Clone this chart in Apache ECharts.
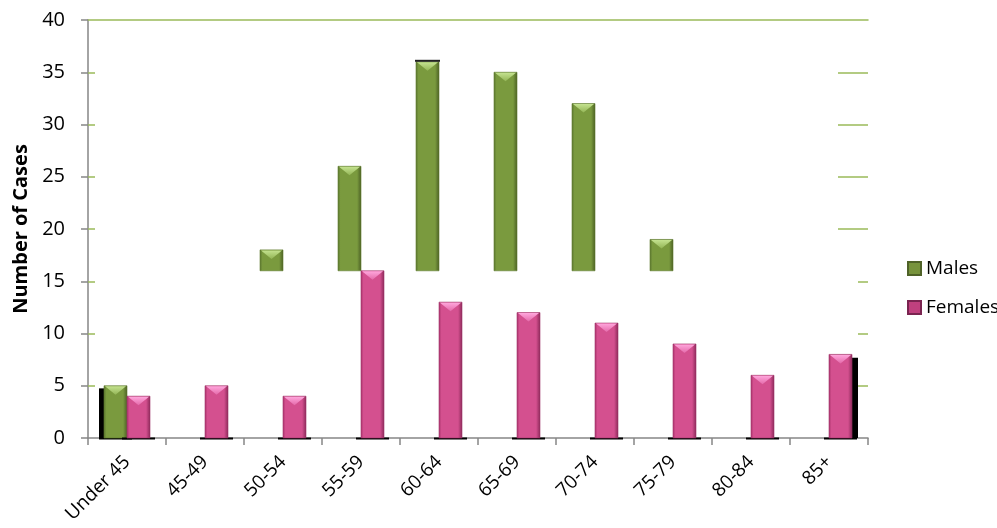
<!DOCTYPE html>
<html>
<head>
<meta charset="utf-8">
<script src="https://cdn.jsdelivr.net/npm/echarts@6/dist/echarts.min.js"></script>
<style>
html,body{margin:0;padding:0;background:#fff;}
#chart{width:997px;height:528px;}
</style>
</head>
<body>
<div id="chart"></div>
<script>
// ---- data ----
const categories = ['Under 45','45-49','50-54','55-59','60-64','65-69','70-74','75-79','80-84','85+'];
const males   = [5, null, 18, 26, 36, 35, 32, 19, null, null];
const females = [4, 5, 4, 16, 13, 12, 11, 9, 6, 8];
const yTicks = [0, 5, 10, 15, 20, 25, 30, 35, 40];

// ---- style ----
const FONT = 'Open Sans';
const GREEN_GRID = '#9BBB59';
const AXIS_GRAY = '#868686';
const OCCLUDE_LEVEL = 16; // rendering artefact of reference: male bars hidden below this level (except first)
const BAR_W = 23;

function grad(dark1, main, dark2){
  return new echarts.graphic.LinearGradient(0,0,1,0,[
    {offset:0,color:dark1},{offset:0.12,color:main},{offset:0.82,color:main},{offset:1,color:dark2}
  ]);
}
function triGrad(top, bottom){
  return new echarts.graphic.LinearGradient(0,0,0,1,[{offset:0,color:top},{offset:1,color:bottom}]);
}

function makeRender(side){
  const isM = side === 'm';
  return function(params, api){
    const idx = api.value(0), val = api.value(1);
    if (val == null || isNaN(val)) return;
    const top = api.coord([idx, val]);
    const baseVal = (isM && idx > 0 && val > OCCLUDE_LEVEL) ? OCCLUDE_LEVEL : 0;
    const bot = api.coord([idx, baseVal]);
    const x = isM ? top[0] - BAR_W : top[0];
    const y = top[1];
    const h = bot[1] - top[1];
    const children = [];
    const last = params.dataInsideLength - 1;
    if (baseVal === 0) {
      children.push({type:'rect', shape:{x:x-5, y:bot[1]-0.5, width:BAR_W+10, height:2}, style:{fill:'#000'}});
    }
    if (isM && idx === 0) {
      const t = api.coord([idx, val*0.95]);
      children.push({type:'rect', shape:{x:x-5, y:t[1], width:5, height:bot[1]-t[1]}, style:{fill:'#000'}});
    }
    if (!isM && idx === last) {
      const t = api.coord([idx, val*0.96]);
      children.push({type:'rect', shape:{x:x+BAR_W, y:t[1], width:6, height:bot[1]-t[1]}, style:{fill:'#000'}});
    }
    children.push({
      type:'rect', shape:{x:x, y:y, width:BAR_W, height:h},
      style:{
        fill: isM ? grad('#5A7530','#7A9A3E','#4A5F24') : grad('#A9326B','#D4508F','#8A2858'),
        stroke: isM ? '#5E7A2E' : '#9E3468', lineWidth: 0.6
      }
    });
    children.push({
      type:'polygon', shape:{points:[[x+1,y+0.5],[x+BAR_W-1,y+0.5],[x+BAR_W/2,y+9]]},
      style:{fill: isM ? triGrad('#C4E28F','#93B556') : triGrad('#FFA6DC','#E46AAA')}
    });
    if (isM && idx === 4) {
      children.push({type:'rect', shape:{x:x-1, y:y-2, width:BAR_W+2, height:2}, style:{fill:'#222'}});
    }
    return {type:'group', children};
  };
}

const chart = echarts.init(document.getElementById('chart'), null, {renderer:'canvas'});
const yBase = {type:'value', min:0, max:40, interval:5, splitLine:{show:false}};
chart.setOption({
  animation:false,
  backgroundColor:'#fff',
  textStyle:{fontFamily:FONT},
  grid:{left:88, right:129, top:20, bottom:90, containLabel:false},
  legend:{
    orient:'vertical', left:902, top:254, itemGap:20, padding:5,
    itemWidth:13, itemHeight:13, icon:'rect',
    textStyle:{fontFamily:FONT, fontSize:19, color:'#000'},
    data:['Males','Females']
  },
  xAxis:[{
    type:'category', data:categories, position:'bottom',
    axisLine:{lineStyle:{color:AXIS_GRAY, width:1.5}},
    axisTick:{show:true, length:7, lineStyle:{color:AXIS_GRAY, width:1.5}},
    axisLabel:{rotate:45, fontFamily:FONT, fontSize:19, color:'#000', margin:21, interval:0}
  },{
    type:'category', data:categories, position:'top',
    axisLine:{onZero:false, lineStyle:{color:GREEN_GRID, width:1.5}},
    axisTick:{show:false}, axisLabel:{show:false}
  }],
  yAxis:[
    Object.assign({}, yBase, {
      position:'left',
      name:'Number of Cases', nameLocation:'middle', nameGap:54,
      nameTextStyle:{fontFamily:FONT, fontSize:20, fontWeight:'bold', color:'#000'},
      axisLine:{show:true, lineStyle:{color:AXIS_GRAY, width:1.5}},
      axisTick:{show:true, length:7, lineStyle:{color:AXIS_GRAY, width:1.5}},
      axisLabel:{fontFamily:FONT, fontSize:20, color:'#000', margin:23,
        customValues: yTicks}
    }),
    Object.assign({}, yBase, {
      position:'left', axisLine:{show:false}, axisLabel:{show:false},
      axisTick:{show:true, inside:true, length:7, lineStyle:{color:GREEN_GRID, width:1.5},
        customValues:[5,10,15,20,25,30,35]}
    }),
    Object.assign({}, yBase, {
      position:'right', axisLine:{show:false}, axisLabel:{show:false},
      axisTick:{show:true, inside:true, length:30, lineStyle:{color:GREEN_GRID, width:1.5},
        customValues:[20,25,30,35]}
    }),
    Object.assign({}, yBase, {
      position:'right', axisLine:{show:false}, axisLabel:{show:false},
      axisTick:{show:true, inside:true, length:10, lineStyle:{color:GREEN_GRID, width:1.5},
        customValues:[5,10,15]}
    })
  ],
  series:[
    {
      name:'Males', type:'custom', xAxisIndex:0, yAxisIndex:0,
      itemStyle:{color:'#77933C', borderColor:'#4F6228', borderWidth:1},
      renderItem: makeRender('m'),
      encode:{x:0, y:1},
      data: males.map((v,i)=>[i, v == null ? '-' : v]),
      z:2
    },
    {
      name:'Females', type:'custom', xAxisIndex:0, yAxisIndex:0,
      itemStyle:{color:'#C0407E', borderColor:'#7A2450', borderWidth:1},
      renderItem: makeRender('f'),
      encode:{x:0, y:1},
      data: females.map((v,i)=>[i, v]),
      z:3
    }
  ]
});
</script>
</body>
</html>
